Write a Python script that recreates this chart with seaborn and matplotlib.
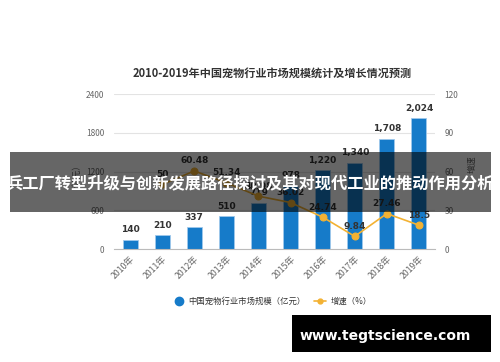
import matplotlib
matplotlib.use("Agg")
import matplotlib.pyplot as plt
import seaborn as sns
import pandas as pd
from matplotlib.patches import Rectangle

years = ["2010年", "2011年", "2012年", "2013年", "2014年", "2015年", "2016年", "2017年", "2018年", "2019年"]
market_size = [140, 210, 337, 510, 719, 978, 1220, 1340, 1708, 2024]
growth_years = ["2011年", "2012年", "2013年", "2014年", "2015年", "2016年", "2017年", "2018年", "2019年"]
growth = [50, 60.48, 51.34, 40.98, 36.02, 24.74, 9.84, 27.46, 18.5]
left_ticks = [0, 600, 1200, 1800, 2400]
right_ticks = [0, 30, 60, 90, 120]

sns.set_theme(style="white")
plt.rcParams['font.family'] = ['Noto Sans CJK SC', 'DejaVu Sans']

BLUE = "#167BC9"
ORANGE = "#F3B233"
GRAY = "#666666"

fig = plt.figure(figsize=(5, 3.62), dpi=100)
ax = fig.add_axes([0.228, 0.312, 0.642, 0.428])

df = pd.DataFrame({"year": years, "size": market_size})
sns.barplot(data=df, x="year", y="size", color=BLUE, width=0.47, ax=ax,
            edgecolor="#9fc9ec", linewidth=0.6, saturation=1, zorder=2)
ax.set_ylim(0, 2400)
ax.set_xlim(-0.5, 9.5)
ax.set_yticks(left_ticks)
ax.set_yticklabels([str(t) for t in left_ticks], fontsize=6, color=GRAY)
ax.yaxis.grid(True, color="#e3e3e3", linewidth=0.8, zorder=0)
ax.set_axisbelow(True)
for s in ["top", "right", "left"]:
    ax.spines[s].set_visible(False)
ax.spines["bottom"].set_color("#bbbbbb")
ax.spines["bottom"].set_linewidth(0.8)
ax.tick_params(axis="y", length=0, pad=7)
ax.tick_params(axis="x", length=3, color="#bbbbbb", width=0.6, pad=1)
ax.set_xticks(range(len(years)))
ax.set_xticklabels(years, rotation=45, ha="right", rotation_mode="anchor", fontsize=6.3, color=GRAY)
ax.set_xlabel("")
ax.set_ylabel("（亿元）", fontsize=6.3, color=GRAY, labelpad=10)
ax.yaxis.set_label_coords(-0.12, 0.5)

for i, v in enumerate(market_size):
    ax.annotate(f"{v:,}", (i, v), xytext=(0, 4), textcoords="offset points",
                ha="center", va="bottom", fontsize=6.5, fontweight="bold", color="#333333",
                family=["DejaVu Sans"], zorder=5)

ax2 = ax.twinx()
ax2.set_position(ax.get_position())
gdf = pd.DataFrame({"x": [years.index(y) for y in growth_years], "g": growth})
sns.lineplot(data=gdf, x="x", y="g", ax=ax2, color=ORANGE, linewidth=1.2,
             marker="o", markersize=5, markeredgecolor=ORANGE, zorder=4)
ax2.set_ylim(0, 120)
ax2.set_xlim(-0.5, 9.5)
ax2.set_yticks(right_ticks)
ax2.set_yticklabels([str(t) for t in right_ticks], fontsize=6, color=GRAY)
ax2.tick_params(axis="y", length=0, pad=7)
for s in ["top", "right", "left", "bottom"]:
    ax2.spines[s].set_visible(False)
ax2.set_xlabel("")
ax2.set_ylabel("增速", fontsize=6.3, color=GRAY, labelpad=6)
ax2.yaxis.set_label_coords(1.1, 0.55)
for xi, g in zip(gdf["x"], growth):
    ax2.annotate(f"{g:g}", (xi, g), xytext=(0, 4), textcoords="offset points",
                 ha="center", va="bottom", fontsize=6.5, fontweight="bold", color="#333333",
                 family=["DejaVu Sans"], zorder=6)

fig.text(0.544, 0.798, "2010-2019年中国宠物行业市场规模统计及增长情况预测",
         ha="center", va="center", fontsize=8, fontweight="bold", color="#333333")

# legend
fig.lines.append(plt.Line2D([0.358], [0.168], marker="o", markersize=6, color=BLUE,
                            linestyle="none", transform=fig.transFigure))
fig.text(0.376, 0.168, "中国宠物行业市场规模（亿元）", ha="left", va="center", fontsize=6, color="#333333")
fig.lines.append(plt.Line2D([0.628, 0.652], [0.168, 0.168], color=ORANGE, linewidth=1.2,
                            transform=fig.transFigure))
fig.lines.append(plt.Line2D([0.640], [0.168], marker="o", markersize=3.5, color=ORANGE,
                            linestyle="none", transform=fig.transFigure))
fig.text(0.662, 0.168, "增速（%）", ha="left", va="center", fontsize=6, color="#333333")

# overlay banner
fig.patches.append(Rectangle((0.02, 1 - 212 / 362), 0.962, 60 / 362, transform=fig.transFigure,
                             facecolor="black", alpha=0.6, edgecolor="none", zorder=10))
fig.text(0.5, 1 - 183 / 362, "兵工厂转型升级与创新发展路径探讨及其对现代工业的推动作用分析",
         ha="center", va="center", fontsize=11.7, fontweight="bold", color="white", zorder=11)

# site watermark box
fig.patches.append(Rectangle((292 / 500, 1 - 352 / 362), 199 / 500, 37 / 362, transform=fig.transFigure,
                             facecolor="black", edgecolor="none", zorder=10))
fig.text(385.5 / 500, 1 - 336 / 362, "www.tegtscience.com", ha="center", va="center",
         fontsize=10, fontweight="bold", color="white", family=["DejaVu Sans"], zorder=11)

fig.savefig("out.png", dpi=100)
